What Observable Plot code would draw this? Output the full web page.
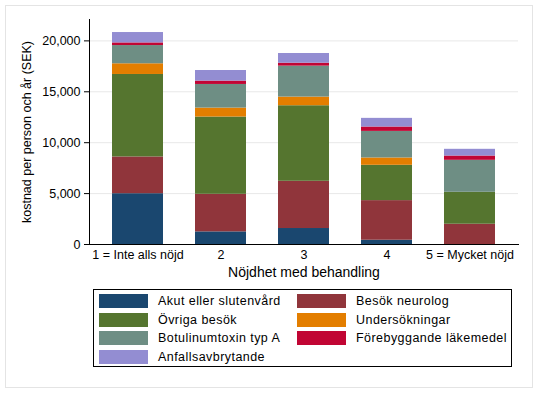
<!DOCTYPE html>
<html><head><meta charset="utf-8">
<script src="https://cdn.jsdelivr.net/npm/d3@7"></script>
<script src="https://cdn.jsdelivr.net/npm/@observablehq/plot@0.6"></script>
<style>
body{margin:0;background:#fff;font-family:"Liberation Sans",Arial,sans-serif;}
#wrap{position:relative;width:538px;height:393px;overflow:hidden;background:#fff;}
#frame{position:absolute;left:5px;top:5px;width:526px;height:381px;border:1px solid #e4e4e4;}
#chart{position:absolute;left:0;top:0;}
#legend{position:absolute;left:93px;top:289px;width:419px;height:78px;border:1px solid #000;box-sizing:border-box;}
.item{position:absolute;font-size:12.5px;letter-spacing:0.45px;color:#000;line-height:14px;white-space:nowrap;}
.sw{position:absolute;width:49px;height:14px;}
</style></head>
<body><div id="wrap"><div id="frame"></div><div id="chart"></div><div id="legend"></div></div>
<script>
const categories = ["1 = Inte alls nöjd", "2", "3", "4", "5 = Mycket nöjd"];
const seriesNames = ["Akut eller slutenvård", "Besök neurolog", "Övriga besök", "Undersökningar", "Botulinumtoxin typ A", "Förebyggande läkemedel", "Anfallsavbrytande"];
const seriesColors = ["#1a476f", "#90353b", "#55752f", "#e37e00", "#6e8e84", "#c10534", "#938dd2"];
const akut          = [4990, 1240, 1570,  420,    0];
const neurolog      = [3610, 3690, 4640, 3890, 1990];
const ovriga        = [8100, 7590, 7420, 3470, 3140];
const undersokning  = [1050,  880,  850,  720,    0];
const botulinum     = [1790, 2320, 3040, 2610, 3140];
const forebyggande  = [ 260,  330,  290,  430,  420];
const anfalls       = [1020, 1040,  950,  850,  660];
const yTicks = [0, 5000, 10000, 15000, 20000];

const seriesValues = [akut, neurolog, ovriga, undersokning, botulinum, forebyggande, anfalls];
const data = [];
seriesNames.forEach((s, i) => categories.forEach((c, j) => data.push({cat: c, series: s, value: seriesValues[i][j]})));

const plot = Plot.plot({
  width: 538, height: 290,
  marginLeft: 89, marginRight: 20, marginTop: 19, marginBottom: 46,
  style: {fontFamily: '"Liberation Sans", Arial, sans-serif', fontSize: "12.5px", color: "#000", background: "transparent"},
  x: {type: "band", domain: categories, paddingInner: 0.39, paddingOuter: 0.27, label: null},
  y: {domain: [0, 22100], label: null},
  color: {domain: seriesNames, range: seriesColors},
  marks: [
    Plot.gridY(yTicks.slice(1), {stroke: "#e8e8e8", strokeOpacity: 1}),
    Plot.barY(data, {x: "cat", y: "value", fill: "series", inset: 0}),
    Plot.frame({anchor: "left", stroke: "#000"}),
    Plot.frame({anchor: "bottom", stroke: "#000"}),
    Plot.axisY(yTicks, {tickSize: 5, tickPadding: 4, tickFormat: d3.format(","), label: null, fontSize: 12.5}),
    Plot.axisX({tickSize: 0, tickPadding: 6, label: null, fontSize: 12.5}),
    Plot.text(["kostnad per person och år (SEK)"], {frameAnchor: "left", textAnchor: "middle", lineAnchor: "middle", rotate: -90, dx: -63, fontSize: 12.5}),
    Plot.text(["Nöjdhet med behandling"], {frameAnchor: "bottom", textAnchor: "middle", lineAnchor: "middle", dy: 28, fontSize: 14})
  ]
});
document.getElementById("chart").appendChild(plot);

const legend = document.getElementById("legend");
seriesNames.forEach((s, i) => {
  const col = i % 2, row = Math.floor(i / 2);
  const sw = document.createElement("div");
  sw.className = "sw";
  sw.style.background = seriesColors[i];
  sw.style.left = (col === 0 ? 5 : 203) + "px";
  sw.style.top = (4 + row * 18.7) + "px";
  legend.appendChild(sw);
  const t = document.createElement("div");
  t.className = "item";
  t.textContent = s;
  t.style.left = (col === 0 ? 64 : 262) + "px";
  t.style.top = (4 + row * 18.7) + "px";
  legend.appendChild(t);
});
</script></body></html>
